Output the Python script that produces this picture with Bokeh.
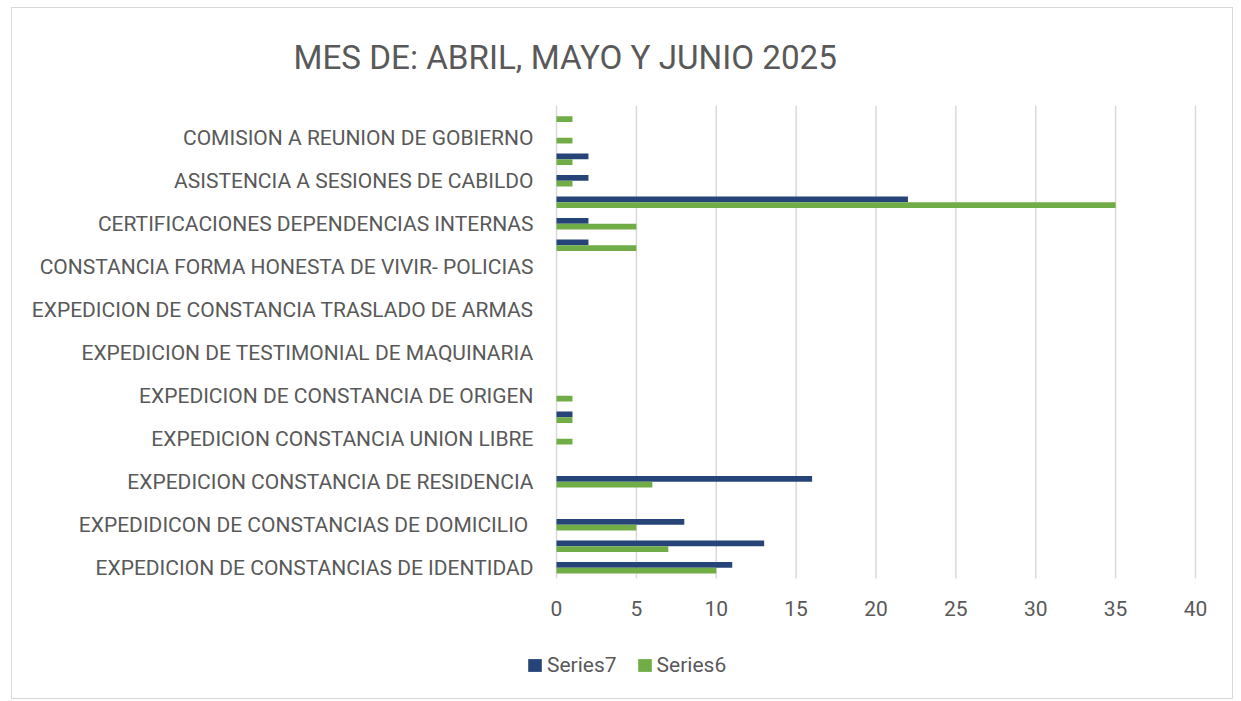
from bokeh.plotting import figure
from bokeh.models import Range1d, FixedTicker, Legend, LegendItem
from bokeh.embed import file_html
from bokeh.resources import INLINE

# ---- data (categories listed bottom -> top; only every other one is labelled in the reference) ----
labelled_positions = [0, 2, 4, 6, 8, 10, 12, 14, 16, 18, 20]
labels = [
    "EXPEDICION DE CONSTANCIAS DE IDENTIDAD",
    "EXPEDIDICON DE CONSTANCIAS DE DOMICILIO ",
    "EXPEDICION CONSTANCIA DE RESIDENCIA",
    "EXPEDICION CONSTANCIA UNION LIBRE",
    "EXPEDICION DE CONSTANCIA DE ORIGEN",
    "EXPEDICION DE TESTIMONIAL DE MAQUINARIA",
    "EXPEDICION DE CONSTANCIA TRASLADO DE ARMAS",
    "CONSTANCIA FORMA HONESTA DE VIVIR- POLICIAS",
    "CERTIFICACIONES DEPENDENCIAS INTERNAS",
    "ASISTENCIA A SESIONES DE CABILDO",
    "COMISION A REUNION DE GOBIERNO",
]
positions = list(range(22))
series7 = [11, 13, 8, 0, 16, 0, 0, 1, 0, 0, 0, 0, 0, 0, 0, 2, 2, 22, 2, 2, 0, 0]
series6 = [10, 7, 5, 0, 6, 0, 1, 1, 1, 0, 0, 0, 0, 0, 0, 5, 5, 35, 1, 1, 1, 1]
x_ticks = [0, 5, 10, 15, 20, 25, 30, 35, 40]
title_text = "MES DE: ABRIL, MAYO Y JUNIO 2025"

FONT = "Roboto"
TXT = "#595959"
NAVY = "#264478"
GREEN = "#70AD47"

# layout (pixels, inside the canvas)
W, H = 1222, 692
FL, FR, FT, FB = 514, 1208, 97, 677        # plot frame edges
X0_PX, X40_PX = 544, 1183                  # where values 0 and 40 sit
BAR_BOTTOM_PX = 570                        # bottom of category area
px_per_x = (X40_PX - X0_PX) / 40.0
px_per_y = (BAR_BOTTOM_PX - FT) / 22.0
x_start = -(X0_PX - FL) / px_per_x
x_end = 40 + (FR - X40_PX) / px_per_x
y_start = -0.5 - (FB - BAR_BOTTOM_PX) / px_per_y

p = figure(width=W, height=H, output_backend="svg", toolbar_location=None,
           x_range=Range1d(x_start, x_end), y_range=Range1d(y_start, 21.5),
           min_border_left=FL, min_border_right=W - FR, min_border_top=FT,
           min_border_bottom=H - FB)
p.styles = {"border": "1px solid #d9d9d9", "margin-left": "11px", "margin-top": "7px"}
p.outline_line_color = None
p.background_fill_color = "white"
p.border_fill_color = "white"

# vertical gridlines limited to the category area
p.segment(x0=x_ticks, y0=[-0.5] * len(x_ticks), x1=x_ticks, y1=[21.5] * len(x_ticks),
          line_color="#d9d9d9", line_width=1.5)

bh = 0.27
r7 = p.hbar(y=[v + bh / 2 for v in positions], right=series7, left=0, height=bh,
            color=NAVY, line_color=None)
r6 = p.hbar(y=[v - bh / 2 for v in positions], right=series6, left=0, height=bh,
            color=GREEN, line_color=None)

# axes
p.xaxis.fixed_location = -0.5
p.xaxis.ticker = FixedTicker(ticks=x_ticks)
p.xaxis.axis_line_color = None
p.xaxis.major_tick_line_color = None
p.xaxis.minor_tick_line_color = None
p.xaxis.major_tick_out = 0
p.xaxis.major_tick_in = 0
p.xaxis.major_label_standoff = 22
p.xaxis.major_label_text_font = FONT
p.xaxis.major_label_text_font_size = "21px"
p.xaxis.major_label_text_color = TXT

p.yaxis.ticker = FixedTicker(ticks=labelled_positions)
p.yaxis.major_label_overrides = {k: lab for k, lab in zip(labelled_positions, labels)}
p.yaxis.axis_line_color = None
p.yaxis.major_tick_line_color = None
p.yaxis.minor_tick_line_color = None
p.yaxis.major_tick_out = 0
p.yaxis.major_tick_in = 0
p.yaxis.major_label_standoff = -7
p.yaxis.major_label_text_font = FONT
p.yaxis.major_label_text_font_size = "21px"
p.yaxis.major_label_text_color = TXT

p.xgrid.grid_line_color = None
p.ygrid.grid_line_color = None

# title
p.title.text = title_text
p.title.align = "left"
p.title.vertical_align = "middle"
p.title.offset = -233
p.title.standoff = 56
p.title.text_font = FONT
p.title.text_font_size = "33.2px"
p.title.text_font_style = "normal"
p.title.text_color = TXT

legend = Legend(items=[LegendItem(label="Series7", renderers=[r7]),
                       LegendItem(label="Series6", renderers=[r6])],
                orientation="horizontal", location=(0, 8))
legend.padding = 0
legend.margin = 0
legend.spacing = 19
legend.glyph_width = 17
legend.glyph_height = 16
legend.label_standoff = 4
legend.label_text_font = FONT
legend.label_text_font_size = "21px"
legend.label_text_color = TXT
legend.background_fill_alpha = 0
legend.border_line_alpha = 0
p.add_layout(legend, "center")

open("out.html", "w").write(file_html(p, INLINE))
